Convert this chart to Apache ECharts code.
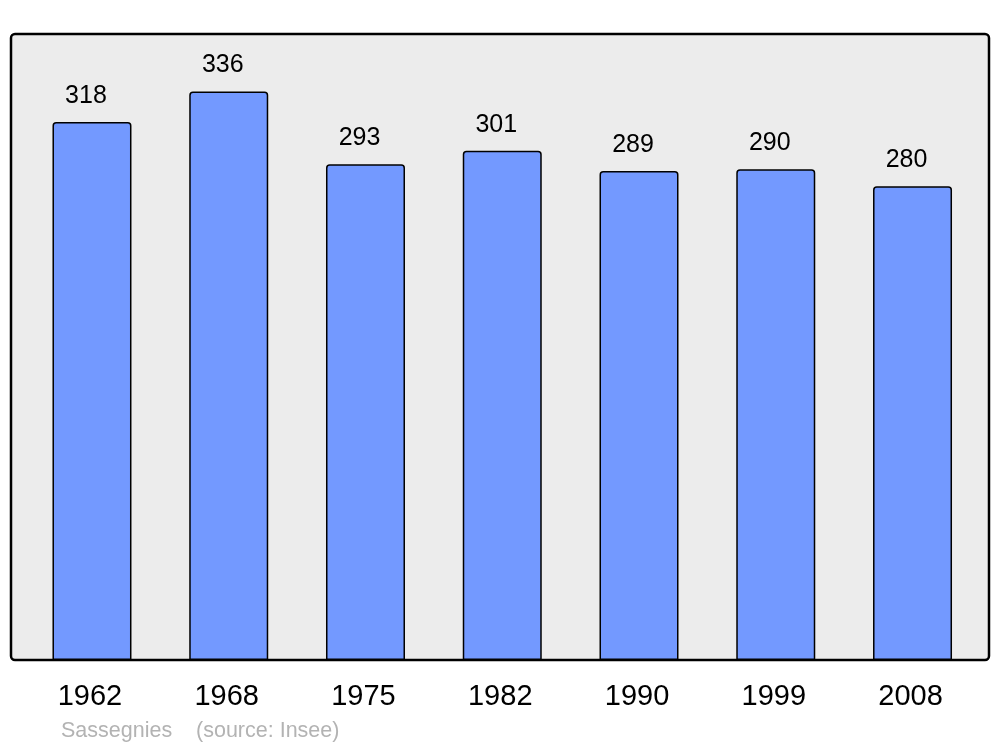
<!DOCTYPE html>
<html>
<head>
<meta charset="utf-8">
<script src="https://cdn.jsdelivr.net/npm/echarts@6/dist/echarts.min.js"></script>
<style>html,body{margin:0;padding:0;background:#fff}#c{width:1000px;height:747px}</style>
</head>
<body>
<div id="c"></div>
<script>
const years = ['1962', '1968', '1975', '1982', '1990', '1999', '2008'];
const population = [318, 336, 293, 301, 289, 290, 280];
const sourceText = 'Sassegnies    (source: Insee)';

const chart = echarts.init(document.getElementById('c'), null, {renderer: 'canvas'});
chart.setOption({
  animation: false,
  backgroundColor: '#ffffff',
  textStyle: {fontFamily: 'Liberation Sans'},
  graphic: [
    {
      type: 'rect', z: -10,
      shape: {x: 11, y: 34, width: 978, height: 626, r: 4},
      style: {fill: '#ececec', stroke: '#000', lineWidth: 2.5}
    },
    {
      type: 'text', left: 61, top: 720,
      style: {text: sourceText, fill: '#b3b3b3', font: '21.5px "Liberation Sans"'}
    }
  ],
  grid: {left: 23.6, right: 19.1, top: 34, bottom: 87, containLabel: false},
  xAxis: {
    type: 'category', data: years,
    axisLine: {show: false}, axisTick: {show: false},
    axisLabel: {color: '#000', fontSize: 29, margin: 22, padding: [0, 4, 0, 0], fontFamily: 'Liberation Sans'}
  },
  yAxis: {
    type: 'value', min: 0, max: 370,
    show: false, splitLine: {show: false}
  },
  series: [{
    type: 'bar', data: population, barWidth: 79,
    itemStyle: {color: '#7399ff', borderColor: '#000', borderWidth: 1.5, borderRadius: [3, 3, 0, 0]},
    label: {
      show: true, position: 'top', distance: 13.5, offset: [-6, 0],
      color: '#000', fontSize: 25, fontFamily: 'Liberation Sans'
    }
  }]
});
</script>
</body>
</html>
